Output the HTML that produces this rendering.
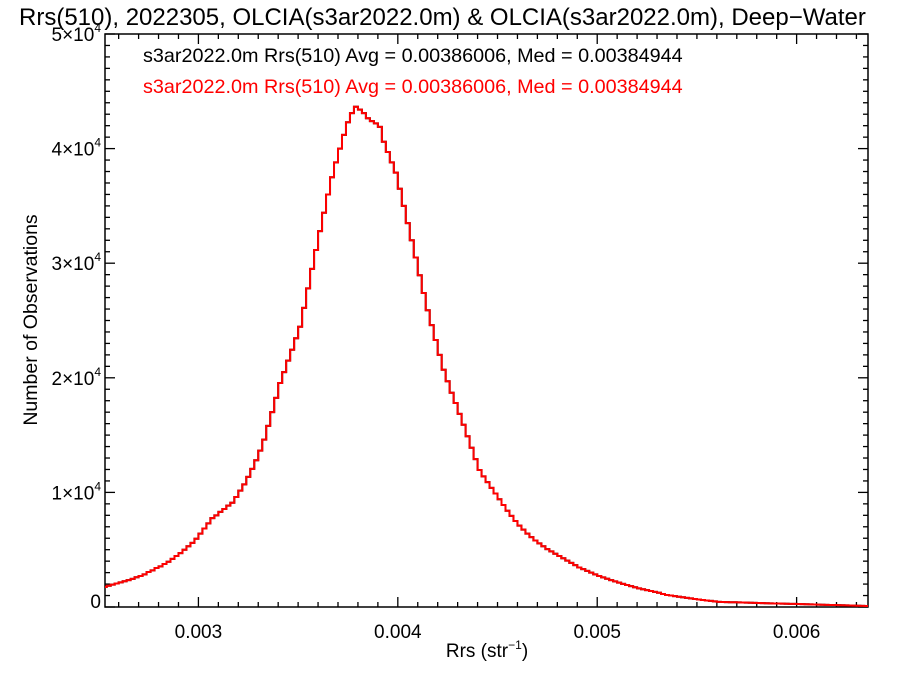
<!DOCTYPE html>
<html><head><meta charset="utf-8"><style>
html,body{margin:0;padding:0;background:#fff;}
svg{display:block;font-family:"Liberation Sans",Arial,sans-serif;}
</style></head><body>
<svg id="chart" width="900" height="675" viewBox="0 0 900 675">
<text x="19" y="25" font-size="24" fill="#000">Rrs(510), 2022305, OLCIA(s3ar2022.0m) &amp; OLCIA(s3ar2022.0m), Deep−Water</text>
<g id="axes"></g>
<g id="series"></g>
<text x="143" y="62" font-size="19.8" fill="#000">s3ar2022.0m Rrs(510) Avg = 0.00386006, Med = 0.00384944</text>
<text x="143" y="93" font-size="19.8" fill="#ff0000">s3ar2022.0m Rrs(510) Avg = 0.00386006, Med = 0.00384944</text>
<text x="487" y="657" font-size="19" text-anchor="middle">Rrs (str<tspan font-size="12" dy="-8">−1</tspan><tspan dy="8">)</tspan></text>
<text x="37" y="320" font-size="19.5" text-anchor="middle" transform="rotate(-90 37 320)">Number of Observations</text>
</svg>
<script>
const binStart = 0.00252;
const binWidth = 0.00002;
const counts = [1750,1850,1950,2050,2150,2250,2350,2450,2600,2700,2850,3050,
3200,3400,3550,3750,3950,4200,4450,4700,5000,5300,5600,5950,6400,
6850,7300,7750,8000,8300,8550,8850,9100,9600,10150,10700,11350,
12050,12800,13650,14600,15800,17000,18250,19550,20500,21500,22450,23450,24450,
26100,27800,29500,31150,32800,34400,36000,37500,38800,40000,41200,42300,43100,43650,
43400,43100,42650,42400,42200,41900,40600,39700,38800,37900,36500,35000,33500,32000,
30500,28950,27400,25900,24600,23300,22000,20700,19700,18700,17800,16850,15900,
14900,13900,12900,11950,11400,10900,10400,9900,9400,8900,8400,7950,7500,7100,6750,6400,
6100,5800,5550,5300,5050,4850,4650,4450,4250,4050,3850,3650,3450,3300,3150,3000,2850,
2700,2580,2460,2350,2240,2130,2020,1920,1820,1720,1630,1550,1470,1400,1320,1240,1140,1050,
1000,950,900,850,800,750,700,650,610,570,530,490,450,
440,430,420,410,400,390,380,370,360,350,340,330,320,310,300,290,280,275,270,260,
250,240,230,220,210,200,190,180,170,160,150,140,130,120,110,100,90];
const xTicks = [0.003,0.004,0.005,0.006];
const xTickLabels = ["0.003","0.004","0.005","0.006"];
const yTicks = [0,10000,20000,30000,40000,50000];
const yTickLabels = ["0","1×10^4","2×10^4","3×10^4","4×10^4","5×10^4"];

const X0=105,X1=868,Y0=607,Y1=34;
const xmin=0.0025315,xmax=0.006358,ymin=0,ymax=50000;
const sx=v=>X0+(v-xmin)/(xmax-xmin)*(X1-X0);
const sy=v=>Y0-(v-ymin)/(ymax-ymin)*(Y0-Y1);
const NS="http://www.w3.org/2000/svg";
const axes=document.getElementById('axes');
function mk(tag,attrs,parent){const e=document.createElementNS(NS,tag);for(const k in attrs)e.setAttribute(k,attrs[k]);parent.appendChild(e);return e;}

const frame=mk('rect',{x:X0,y:Y1,width:X1-X0,height:Y0-Y1,fill:'none',stroke:'#000','stroke-width':1.5},axes);



for(let k=26;k<=63;k++){
  const v=k/10000; if(v<xmin||v>xmax) continue;
  const x=sx(v); const major=(k%10===0); const L=major?10:5;
  let t=mk('line',{x1:x,x2:x,y1:Y0,y2:Y0-L,stroke:'#000','stroke-width':1.3},axes);
  
  
  t=mk('line',{x1:x,x2:x,y1:Y1,y2:Y1+L,stroke:'#000','stroke-width':1.3},axes);
  
  
}
xTicks.forEach((v,i)=>{
  const t=mk('text',{x:sx(v),y:Y0+31,'font-size':19,'text-anchor':'middle'},axes);
  t.textContent=xTickLabels[i];
  
  
});
for(let k=0;k<=50;k++){
  const v=k*1000; const y=sy(v); const major=(k%10===0); const L=major?10:5;
  let t=mk('line',{x1:X0,x2:X0+L,y1:y,y2:y,stroke:'#000','stroke-width':1.3},axes);
  
  
  t=mk('line',{x1:X1,x2:X1-L,y1:y,y2:y,stroke:'#000','stroke-width':1.3},axes);
  
  
}
yTicks.forEach((v,i)=>{
  const y=sy(v)+7-(v===0?6:0);
  const t=mk('text',{x:X0-4,y:y,'font-size':19,'text-anchor':'end'},axes);
  const parts=yTickLabels[i].split('^');
  if(parts.length===2){
    t.textContent=parts[0];
    const s=mk('tspan',{'font-size':12,dy:-9},t);s.textContent=parts[1];
  } else t.textContent=parts[0];
  
  
});

function stepPath(){
  let d='';
  counts.forEach((c,i)=>{
    const xa=sx(binStart+i*binWidth), xb=sx(binStart+(i+1)*binWidth), y=sy(c);
    d+=(i===0?'M':'L')+Math.max(xa,X0).toFixed(2)+','+y.toFixed(2)+'L'+Math.min(xb,X1).toFixed(2)+','+y.toFixed(2);
  });
  return d;
}
const series=document.getElementById('series');
const pb=mk('path',{d:stepPath(),fill:'none',stroke:'#000','stroke-width':2},series);


const pr=mk('path',{d:stepPath(),fill:'none',stroke:'#ff0000','stroke-width':2},series);


</script>
</body></html>
